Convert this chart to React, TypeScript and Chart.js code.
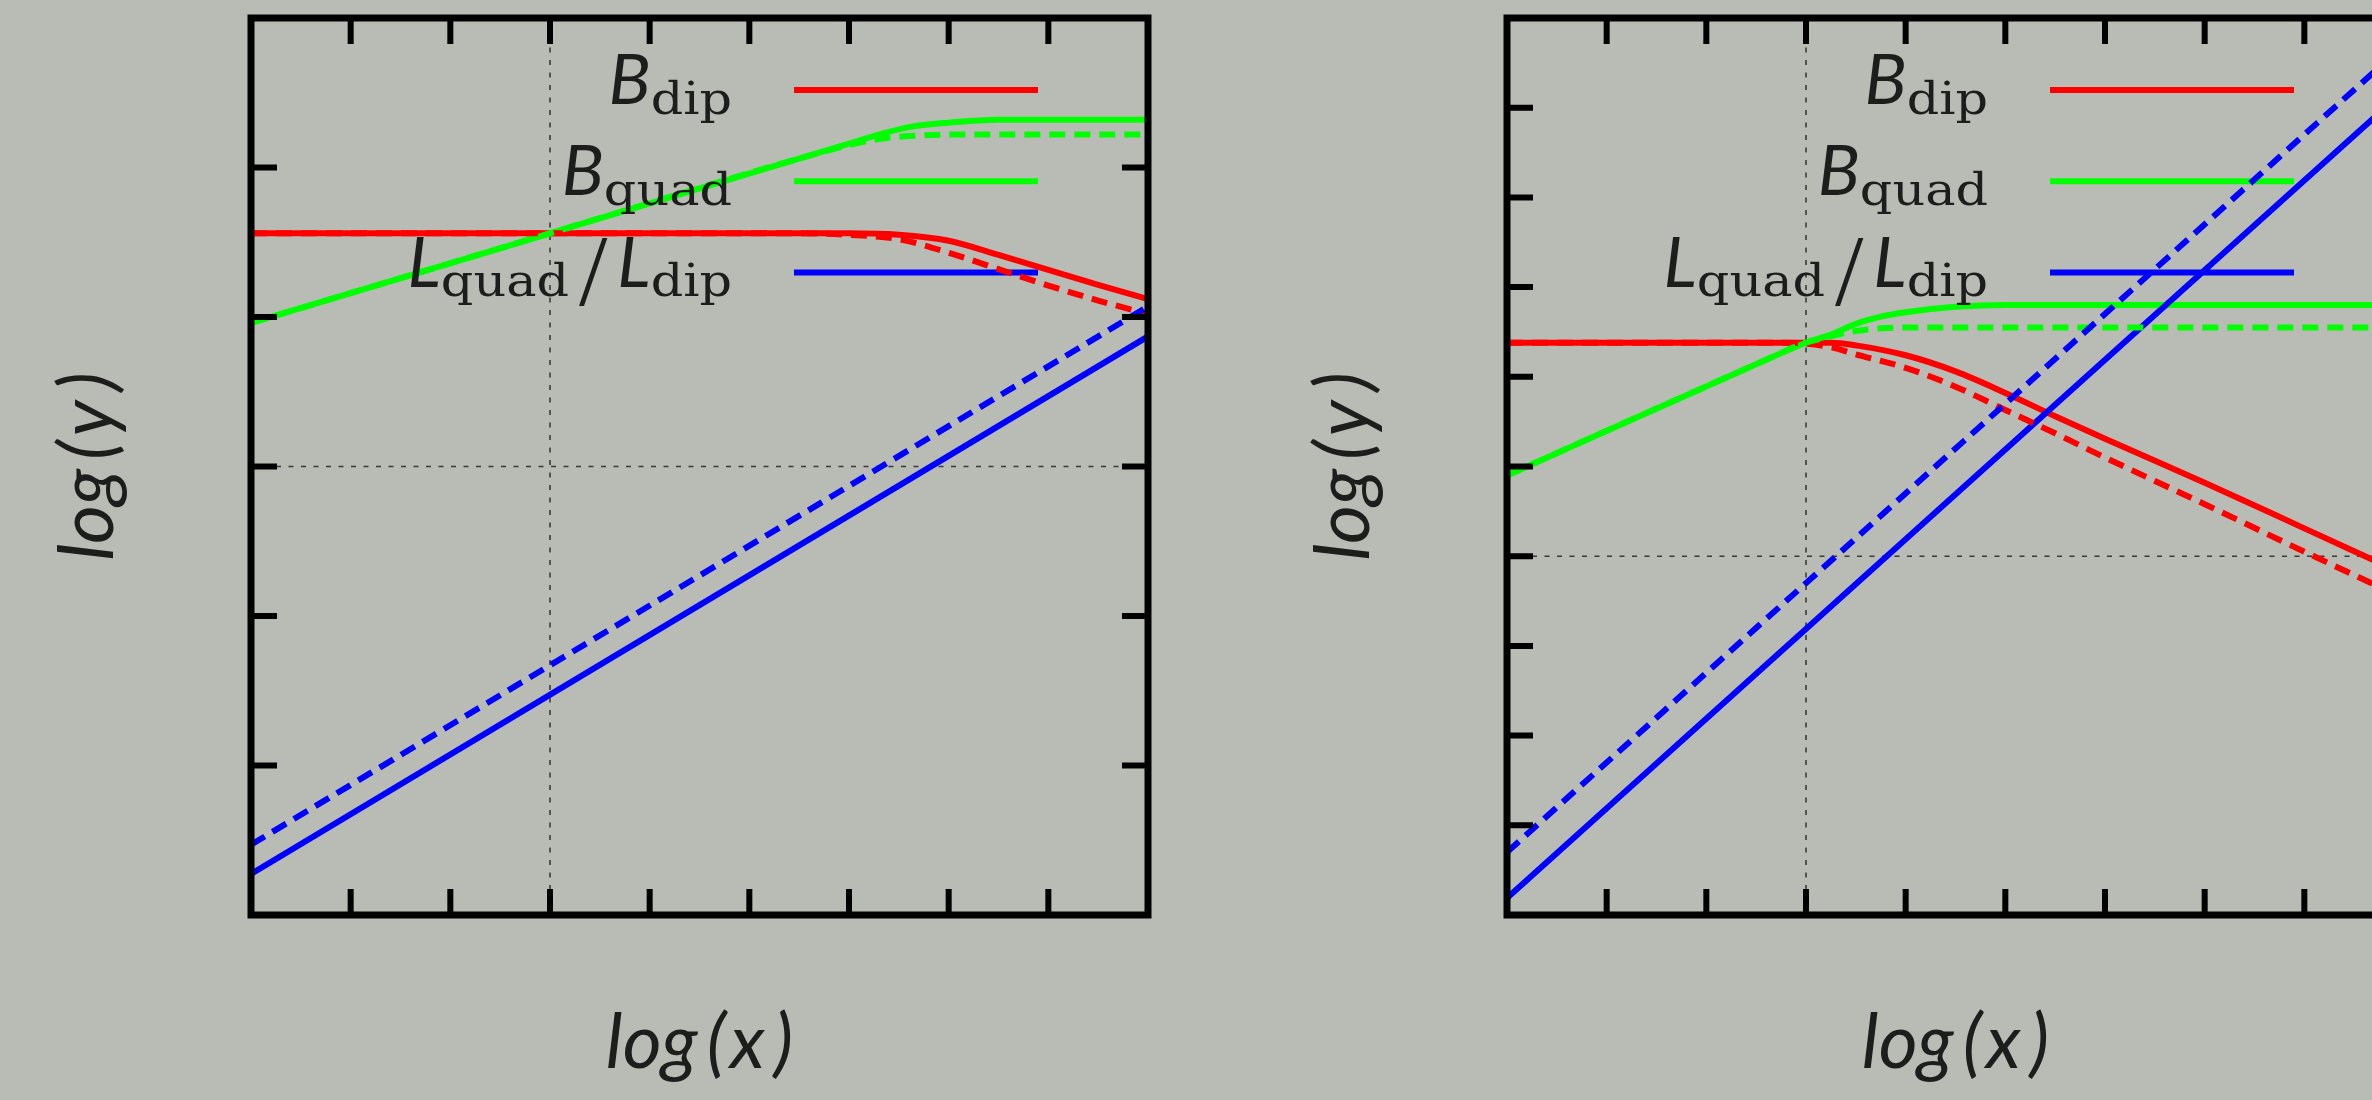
import React, { useEffect, useRef } from 'react';
import { Chart, registerables } from 'chart.js';

Chart.register(...registerables);

// ---------- data ----------
const X_TICKS = [0, 1, 2, 3, 4, 5, 6, 7, 8, 9];
const LEFT_Y_TICKS = [0, 1, 2, 3, 4, 5, 6];
const RIGHT_Y_TICKS = [0, 1, 2, 3, 4, 5, 6, 7, 8, 9, 10];

const X_TITLE = ['log', '(', 'x', ')'];
const Y_TITLE = ['log', '(', 'y', ')'];

const LEGEND_ROWS = [
  [{ t: 'B', k: 'main' }, { t: 'dip', k: 'sub' }],
  [{ t: 'B', k: 'main' }, { t: 'quad', k: 'sub' }],
  [{ t: 'L', k: 'main' }, { t: 'quad', k: 'sub' }, { t: '/', k: 'slash' }, { t: 'L', k: 'main' }, { t: 'dip', k: 'sub' }],
];

// left panel
const L_BDIP_X = [0, 5.5, 6.0, 6.5, 7.0, 7.5, 8.0, 8.5, 9.0];
const L_BDIP_SOLID = [4.56, 4.56, 4.56, 4.55, 4.51, 4.415, 4.315, 4.215, 4.12];
const L_BDIP_DASHED = [4.56, 4.56, 4.55, 4.52, 4.43, 4.32, 4.21, 4.11, 4.02];
const L_BQUAD_X = [0, 3, 5.5, 6.0, 6.3, 6.6, 7.0, 7.5, 9.0];
const L_BQUAD_SOLID = [3.96, 4.56, 5.06, 5.16, 5.22, 5.27, 5.30, 5.32, 5.32];
const L_BQUAD_DASHED = [3.96, 4.56, 5.06, 5.15, 5.19, 5.21, 5.22, 5.22, 5.22];
const L_RATIO_X = [0, 9];
const L_RATIO_SOLID = [0.275, 3.87];
const L_RATIO_DASHED = [0.47, 4.07];

// right panel
const R_BDIP_X = [0, 2.8, 3.25, 3.5, 4.0, 4.5, 5.0, 5.5, 6.0, 7.0, 8.0, 9.0];
const R_BDIP_SOLID = [6.38, 6.38, 6.38, 6.35, 6.24, 6.06, 5.82, 5.56, 5.31, 4.82, 4.31, 3.80];
const R_BDIP_DASHED = [6.38, 6.38, 6.33, 6.25, 6.10, 5.89, 5.63, 5.37, 5.10, 4.58, 4.05, 3.53];
const R_BQUAD_X = [0, 2.5, 3.0, 3.25, 3.5, 3.75, 4.0, 4.5, 5.0, 9.0];
const R_BQUAD_SOLID = [4.90, 6.14, 6.38, 6.47, 6.59, 6.67, 6.72, 6.78, 6.80, 6.80];
const R_BQUAD_DASHED = [4.90, 6.14, 6.38, 6.45, 6.51, 6.54, 6.55, 6.55, 6.55, 6.55];
const R_RATIO_X = [0, 9];
const R_RATIO_SOLID = [0.19, 9.19];
const R_RATIO_DASHED = [0.70, 9.70];

// ---------- style ----------
const BG = '#b9bcb4';
const INK = '#1d1d1d';
const RED = '#ff0000';
const GREEN = '#00ff00';
const BLUE = '#0000ff';
const CANVAS_W = 1256;
const CANVAS_H = 1100;
const AREA = { left: 251, top: 18, right: 1148, bottom: 915 };
const SUB_STRETCH = 1.13;

type Piece = { t: string; k: string };

function pieceFont(k: string) {
  if (k === 'main') return 'italic 70px Lato';
  if (k === 'sub') return '45px "DejaVu Serif"';
  return '102px "Liberation Serif"';
}
function pieceDy(k: string) {
  if (k === 'main') return 14;
  if (k === 'sub') return 23.5;
  return 32;
}
function pieceGap(k: string) {
  return k === 'slash' ? 10 : 0;
}
function pieceWidth(ctx: CanvasRenderingContext2D, p: Piece) {
  ctx.font = pieceFont(p.k);
  const w = ctx.measureText(p.t).width;
  return (p.k === 'sub' ? w * SUB_STRETCH : w) + 2 * pieceGap(p.k);
}

function drawTitle(ctx: CanvasRenderingContext2D, parts: string[], cx: number, baseline: number) {
  ctx.font = 'italic 75px Lato';
  const gaps = [9, 4, 9, 0];
  const widths = parts.map((p) => ctx.measureText(p).width);
  const total = widths.reduce((s, w) => s + w, 0) + gaps.reduce((s, g) => s + g, 0);
  let x = cx - total / 2;
  ctx.textAlign = 'left';
  ctx.textBaseline = 'alphabetic';
  parts.forEach((p, i) => {
    ctx.fillText(p, x, baseline);
    x += widths[i] + gaps[i];
  });
}

function makeDecor(cfg: { yTicks: number[]; gridX: number; gridY: number; colors: string[] }) {
  return {
    id: 'decor',
    beforeDatasetsDraw(chart: any) {
      const { ctx, chartArea: a } = chart;
      const xs = chart.scales.x;
      const ys = chart.scales.y;
      ctx.save();
      // dotted grid lines
      ctx.strokeStyle = 'rgba(35,35,35,0.85)';
      ctx.lineWidth = 1.6;
      ctx.setLineDash([5, 7.5]);
      const gx = xs.getPixelForValue(cfg.gridX);
      ctx.beginPath();
      ctx.moveTo(gx, a.bottom);
      ctx.lineTo(gx, a.top);
      ctx.stroke();
      const gy = ys.getPixelForValue(cfg.gridY);
      ctx.beginPath();
      ctx.moveTo(a.left, gy);
      ctx.lineTo(a.right, gy);
      ctx.stroke();
      ctx.setLineDash([]);
      // legend sample lines
      ctx.lineWidth = 6;
      ctx.lineCap = 'butt';
      cfg.colors.forEach((c, i) => {
        const y = a.top + 72 + i * 91.3;
        ctx.strokeStyle = c;
        ctx.beginPath();
        ctx.moveTo(a.right - 354, y);
        ctx.lineTo(a.right - 110, y);
        ctx.stroke();
      });
      ctx.restore();
    },
    afterDatasetsDraw(chart: any) {
      const { ctx, chartArea: a } = chart;
      const xs = chart.scales.x;
      const ys = chart.scales.y;
      ctx.save();
      // ticks
      ctx.strokeStyle = '#000';
      ctx.lineWidth = 6;
      ctx.lineCap = 'butt';
      const TL = 26;
      X_TICKS.slice(1, -1).forEach((v) => {
        const px = xs.getPixelForValue(v);
        ctx.beginPath();
        ctx.moveTo(px, a.bottom);
        ctx.lineTo(px, a.bottom - TL);
        ctx.moveTo(px, a.top);
        ctx.lineTo(px, a.top + TL);
        ctx.stroke();
      });
      cfg.yTicks.slice(1, -1).forEach((v) => {
        const py = ys.getPixelForValue(v);
        ctx.beginPath();
        ctx.moveTo(a.left, py);
        ctx.lineTo(a.left + TL, py);
        ctx.moveTo(a.right, py);
        ctx.lineTo(a.right - TL, py);
        ctx.stroke();
      });
      // frame
      ctx.lineWidth = 7;
      ctx.lineJoin = 'miter';
      ctx.strokeRect(a.left, a.top, a.right - a.left, a.bottom - a.top);

      // legend text
      ctx.fillStyle = INK;
      ctx.textAlign = 'left';
      ctx.textBaseline = 'alphabetic';
      LEGEND_ROWS.forEach((row, i) => {
        const rowY = a.top + 72 + i * 91.3;
        const widths = row.map((p) => pieceWidth(ctx, p));
        const total = widths.reduce((s, w) => s + w, 0);
        let x = a.right - 416 - total;
        row.forEach((p, j) => {
          ctx.font = pieceFont(p.k);
          const y = rowY + pieceDy(p.k);
          const gx = x + pieceGap(p.k);
          if (p.k === 'sub') {
            ctx.save();
            ctx.translate(gx, y);
            ctx.scale(SUB_STRETCH, 1);
            ctx.fillText(p.t, 0, 0);
            ctx.restore();
          } else {
            ctx.fillText(p.t, gx, y);
          }
          x += widths[j];
        });
      });

      // axis titles
      drawTitle(ctx, X_TITLE, (a.left + a.right) / 2, a.bottom + 153);
      ctx.save();
      ctx.translate(a.left - 138, (a.top + a.bottom) / 2);
      ctx.rotate(-Math.PI / 2);
      drawTitle(ctx, Y_TITLE, 0, 0);
      ctx.restore();
      ctx.restore();
    },
  };
}

type Series = { xs: number[]; ys: number[]; color: string; dashed: boolean; order: number };

function makeConfig(series: Series[], yTicks: number[], gridX: number, gridY: number): any {
  return {
    type: 'line',
    data: {
      datasets: series.map((s) => ({
        data: s.xs.map((x, i) => ({ x, y: s.ys[i] })),
        borderColor: s.color,
        backgroundColor: s.color,
        borderWidth: 6,
        borderDash: s.dashed ? [16, 9] : [],
        borderCapStyle: 'butt',
        pointRadius: 0,
        fill: false,
        cubicInterpolationMode: 'monotone',
        order: s.order,
      })),
    },
    options: {
      animation: false,
      responsive: false,
      devicePixelRatio: 1,
      events: [],
      layout: {
        padding: {
          left: AREA.left,
          top: AREA.top,
          right: CANVAS_W - AREA.right,
          bottom: CANVAS_H - AREA.bottom,
        },
      },
      scales: {
        x: { type: 'linear', display: false, min: X_TICKS[0], max: X_TICKS[X_TICKS.length - 1] },
        y: { type: 'linear', display: false, min: yTicks[0], max: yTicks[yTicks.length - 1] },
      },
      plugins: { legend: { display: false }, tooltip: { enabled: false } },
    },
    plugins: [makeDecor({ yTicks, gridX, gridY, colors: [RED, GREEN, BLUE] })],
  };
}

const LEFT_SERIES: Series[] = [
  { xs: L_BDIP_X, ys: L_BDIP_SOLID, color: RED, dashed: false, order: 6 },
  { xs: L_BQUAD_X, ys: L_BQUAD_SOLID, color: GREEN, dashed: false, order: 5 },
  { xs: L_RATIO_X, ys: L_RATIO_SOLID, color: BLUE, dashed: false, order: 4 },
  { xs: L_BDIP_X, ys: L_BDIP_DASHED, color: RED, dashed: true, order: 3 },
  { xs: L_BQUAD_X, ys: L_BQUAD_DASHED, color: GREEN, dashed: true, order: 2 },
  { xs: L_RATIO_X, ys: L_RATIO_DASHED, color: BLUE, dashed: true, order: 1 },
];

const RIGHT_SERIES: Series[] = [
  { xs: R_BDIP_X, ys: R_BDIP_SOLID, color: RED, dashed: false, order: 6 },
  { xs: R_BQUAD_X, ys: R_BQUAD_SOLID, color: GREEN, dashed: false, order: 5 },
  { xs: R_RATIO_X, ys: R_RATIO_SOLID, color: BLUE, dashed: false, order: 4 },
  { xs: R_BDIP_X, ys: R_BDIP_DASHED, color: RED, dashed: true, order: 3 },
  { xs: R_BQUAD_X, ys: R_BQUAD_DASHED, color: GREEN, dashed: true, order: 2 },
  { xs: R_RATIO_X, ys: R_RATIO_DASHED, color: BLUE, dashed: true, order: 1 },
];

export default function App() {
  const leftRef = useRef<HTMLCanvasElement | null>(null);
  const rightRef = useRef<HTMLCanvasElement | null>(null);

  useEffect(() => {
    const left = new Chart(leftRef.current as HTMLCanvasElement, makeConfig(LEFT_SERIES, LEFT_Y_TICKS, 3, 3));
    const right = new Chart(rightRef.current as HTMLCanvasElement, makeConfig(RIGHT_SERIES, RIGHT_Y_TICKS, 3, 4));
    return () => {
      left.destroy();
      right.destroy();
    };
  }, []);

  return (
    <div
      style={{
        position: 'fixed',
        left: 0,
        top: 0,
        width: 2372,
        height: 1100,
        overflow: 'hidden',
        background: BG,
      }}
    >
      <canvas
        ref={leftRef}
        width={CANVAS_W}
        height={CANVAS_H}
        style={{ position: 'absolute', left: 0, top: 0, width: CANVAS_W, height: CANVAS_H }}
      />
      <canvas
        ref={rightRef}
        width={CANVAS_W}
        height={CANVAS_H}
        style={{ position: 'absolute', left: 1256, top: 0, width: CANVAS_W, height: CANVAS_H }}
      />
    </div>
  );
}
